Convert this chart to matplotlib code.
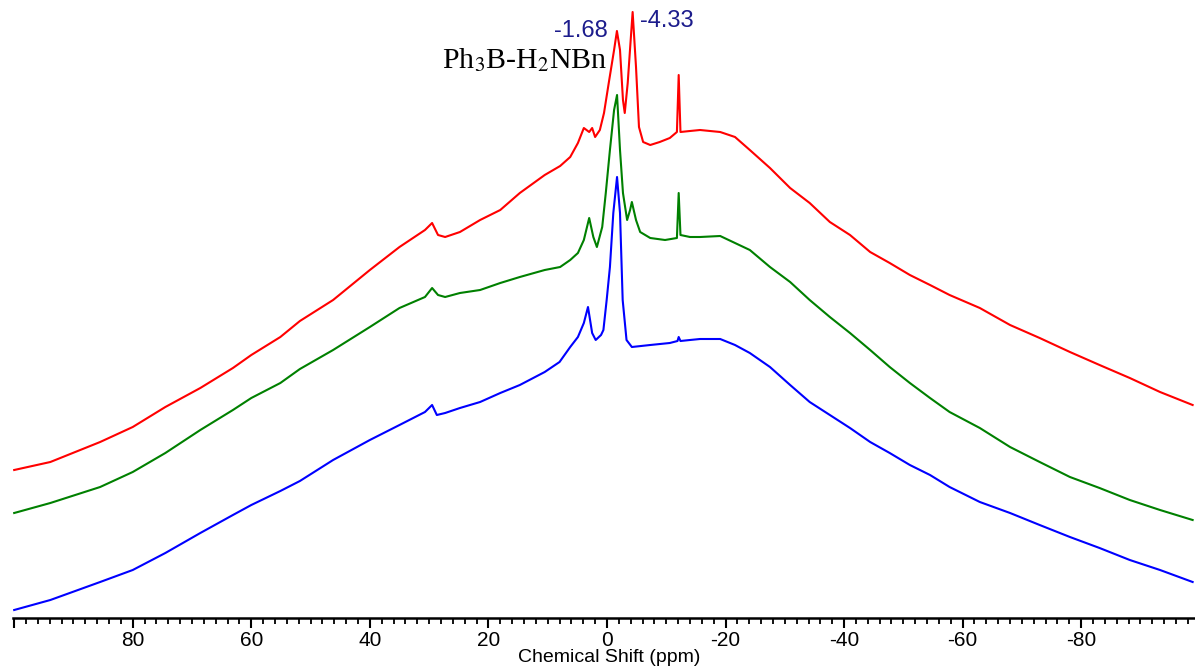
import matplotlib
matplotlib.use("Agg")
import matplotlib.pyplot as plt

plt.rcParams['font.family'] = ['Liberation Sans', 'DejaVu Sans']
plt.rcParams['mathtext.fontset'] = 'stix'

# shared tail of the broad line (ppm)
tail_ppm = [-15.7, -19.1, -21.6, -24.1, -27.5, -30.9, -34.2, -37.6, -41.0, -44.4, -47.7,
            -51.1, -54.5, -57.8, -62.9, -68.0, -73.0, -78.1, -83.1, -88.2, -93.3, -98.8]

# red trace
red_ppm = [100, 93.9, 85.5, 80, 74.5, 68.6, 63.1, 60, 55.1, 51.8, 46.2, 40, 35, 30.7, 29.5,
           28.5, 27.3, 24.8, 21.4, 18.0, 14.7, 10.5, 7.9, 6.2, 4.9, 3.9, 3.0, 2.5, 2.0, 1.2,
           0.5, -0.3, -1.2, -1.68, -2.2, -2.7, -3.0, -3.5, -4.0, -4.33, -4.9, -5.4, -6.1,
           -7.3, -8.9, -10.6, -11.8, -12.1, -12.4, -14.0] + tail_ppm
red_int = [148, 156, 176, 191, 211, 230, 250, 263, 281, 297, 318, 348, 371, 388, 395,
           383, 381, 386, 398, 408, 425, 443, 452, 461, 475, 490, 486, 490, 481, 488,
           505, 535, 568, 587, 568, 518, 505, 535, 578, 606, 551, 491, 476,
           473, 476, 480, 486, 543, 486, 487,
           488, 486, 481, 468, 450, 430, 415, 396, 383, 366, 355, 343, 333, 323, 310, 293,
           280, 266, 253, 240, 226, 213]

# green trace
green_ppm = [100, 93.9, 85.5, 80, 74.5, 68.6, 63.1, 60, 55.1, 51.8, 46.2, 40, 35, 30.7, 29.5,
             28.5, 27.3, 24.8, 21.4, 18.0, 14.7, 10.5, 7.9, 6.2, 4.9, 3.9, 3.0, 2.3, 1.7, 0.8,
             0.2, -0.5, -1.2, -1.7, -2.2, -2.7, -3.4, -3.9, -4.2, -4.9, -5.6, -7.3, -9.8,
             -11.8, -12.1, -12.4, -14.0] + tail_ppm
green_int = [105, 115, 131, 146, 165, 188, 208, 220, 235, 249, 268, 291, 310, 321, 330,
             323, 321, 325, 328, 335, 341, 348, 351, 358, 365, 378, 400, 381, 371, 391,
             425, 468, 508, 523, 468, 425, 398, 408, 416, 398, 386, 380, 378,
             380, 425, 383, 381,
             381, 382, 375, 368, 351, 336, 318, 301, 285, 268, 251, 235, 220, 206, 190, 171,
             156, 141, 130, 118, 108, 98]

# blue trace
blue_ppm = [100, 93.9, 85.5, 80, 74.5, 68.6, 63.1, 60, 55.1, 51.8, 46.2, 40, 35, 30.7, 29.5,
            28.7, 27.3, 24.8, 21.4, 18.0, 14.7, 10.5, 8.0, 6.2, 4.9, 3.9, 3.2, 2.5, 1.9, 1.0,
            0.6, 0.05, -0.5, -1.07, -1.7, -2.2, -2.65, -3.3, -4.2, -7.3, -10.6,
            -11.9, -12.1, -12.4, -14.0] + tail_ppm
blue_int = [8, 18, 36, 48, 65, 85, 103, 113, 127, 137, 158, 178, 193, 206, 213,
            203, 205, 210, 216, 225, 233, 246, 256, 271, 281, 295, 311, 285, 278, 283,
            288, 318, 351, 405, 441, 405, 318, 278, 271, 273, 275,
            277, 281, 277, 278,
            279, 279, 273, 265, 251, 233, 216, 203, 190, 176, 165, 153, 143, 131, 116, 105,
            93, 81, 70, 58, 48, 36]

major_ticks = [100, 80, 60, 40, 20, 0, -20, -40, -60, -80]
major_labels = ['', '80', '60', '40', '20', '0', '-20', '-40', '-60', '-80']
minor_ticks = list(range(100, -100, -2))

fig = plt.figure(figsize=(11.95, 6.68), dpi=100)
ax = fig.add_axes([13 / 1195, 50 / 668, 1182 / 1195, 618 / 668])

ax.plot(red_ppm, red_int, color='#ff0000', lw=1.5)
ax.plot(green_ppm, green_int, color='#008000', lw=1.5)
ax.plot(blue_ppm, blue_int, color='#0000ff', lw=1.5)

ax.set_xlim(100.2, -99.2)
ax.set_ylim(0, 618)

ax.set_xticks(major_ticks, major_labels, fontsize=15)
ax.set_xticks(minor_ticks, minor=True)
ax.tick_params(axis='x', which='major', length=7, width=1.5, pad=2.5, direction='out')
ax.tick_params(axis='x', which='minor', length=4.5, width=1.3, direction='out')
ax.set_yticks([])
for side in ['top', 'right', 'left']:
    ax.spines[side].set_visible(False)
ax.spines['bottom'].set_linewidth(1.8)

# axis title placed in figure coordinates so it stays inside the canvas
fig.text(609 / 1195, 1 - 657 / 668, 'Chemical Shift (ppm)', fontsize=14,
         ha='center', va='center')

ax.text(-0.2, 587, '-1.68', color='#1c1c8c', fontsize=17, ha='right', va='center')
ax.text(-5.6, 597, '-4.33', color='#1c1c8c', fontsize=17, ha='left', va='center')
ax.text(0.0, 550, 'Ph$_3$B-H$_2$NBn', family='Liberation Serif', fontsize=21.5,
        ha='right', va='baseline', color='black')

fig.savefig('out.png', dpi=100)
